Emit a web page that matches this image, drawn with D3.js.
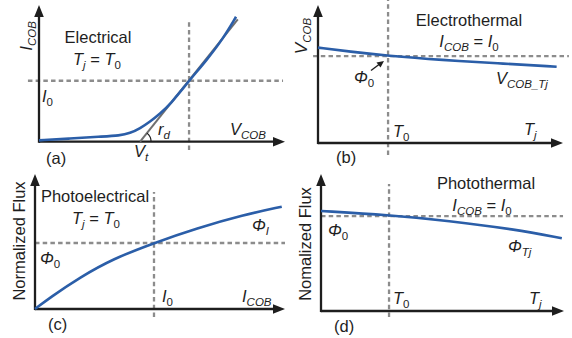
<!DOCTYPE html>
<html><head><meta charset="utf-8">
<script src="https://cdn.jsdelivr.net/npm/d3@7"></script>
<style>
body{margin:0;background:#fff}
svg{display:block}
text{font-family:"Liberation Sans",Arial,Helvetica,sans-serif;fill:#1e1e1e}
</style>
</head><body>
<svg id="c" width="572" height="338"></svg>
<script>
// ---------- DATA (normalized axis units 0..10) ----------
// (a) Electrical: I_COB vs V_COB
const aV = [0, 1.26, 2.48, 3.29, 3.70, 4.11, 4.51, 4.92, 5.33, 6.10, 6.82, 7.49, 8.01];
const aI = [0.10, 0.23, 0.37, 0.45, 0.62, 0.98, 1.46, 2.05, 2.72, 4.46, 5.98, 7.56, 9.14];
const aTanV = [4.11, 8.08];
const aTanI = [0, 8.95];
const aRefX = 6.10, aRefY = 4.46;
const aHLine = [-0.45, 9.92];
const aVLine = [-0.6, 8.9];

// (b) Electrothermal: V_COB vs Tj
const bT = [0, 1.31, 2.80, 5.10, 7.29, 9.74];
const bV = [6.91, 6.62, 6.33, 6.01, 5.78, 5.53];
const bRefX = 2.86, bRefY = 6.30;
const bHLine = [-0.2, 10.24];
const bVLine = [-0.87, 10.36];

// (c) Photoelectrical: Flux vs I_COB
const cI = [0, 0.6, 1.8, 3.12, 4.76, 6.47, 8.33, 9.87];
const cF = [0, 0.85, 2.35, 3.72, 4.89, 5.98, 6.96, 7.58];
const cRefX = 4.76, cRefY = 4.89;
const cHLine = [0, 10];
const cVLine = [-0.59, 8.67];

// (d) Photothermal: Flux vs Tj
const dT = [0, 2.77, 5.24, 7.98, 9.91];
const dF = [7.30, 7.01, 6.59, 5.96, 5.31];
const dRefX = 2.80, dRefY = 6.93;
const dHLine = [0, 9.96];
const dVLine = [-0.44, 9.27];

// ---------- STYLE / LAYOUT ----------
const BLUE = "#2b5ea8", DASH = "#8c8c8c", AXIS = "#1e1e1e", TAN = "#6f6f6f";
const FS = 16.5, SUB = 11.5;

const svg = d3.select("#c");

function rich(x, y, segs, opts = {}) {
  const t = svg.append("text").attr("x", x).attr("y", y)
    .attr("text-anchor", opts.anchor || "start")
    .style("font-size", (opts.size || FS) + "px");
  if (opts.rotate) t.attr("transform", `rotate(-90,${x},${y})`);
  let off = 0;
  segs.forEach(([txt, st = ""]) => {
    const sub = st.includes("s");
    const target = sub ? 4 : 0;
    const sp = t.append("tspan").text(txt)
      .style("font-style", st.includes("i") ? "italic" : "normal")
      .style("font-size", (sub ? SUB : (opts.size || FS)) + "px");
    if (target !== off) { sp.attr("dy", target - off); off = target; }
  });
  return t;
}

function panel(cfg) {
  const x = d3.scaleLinear().domain([0, 10]).range(cfg.xr);
  const y = d3.scaleLinear().domain([0, 10]).range(cfg.yr);
  const g = svg.append("g");
  // dashed reference lines
  g.append("line").attr("x1", x(cfg.hl[0])).attr("x2", x(cfg.hl[1]))
    .attr("y1", y(cfg.ry)).attr("y2", y(cfg.ry))
    .attr("stroke", DASH).attr("stroke-width", 2.3).attr("stroke-dasharray", "4.5,3.2");
  g.append("line").attr("x1", x(cfg.rx)).attr("x2", x(cfg.rx))
    .attr("y1", y(cfg.vl[0])).attr("y2", y(cfg.vl[1]))
    .attr("stroke", DASH).attr("stroke-width", 2.3).attr("stroke-dasharray", "4.5,3.2");
  // axes
  const ox = x(0), oy = y(0), tx = x(10), ty = y(10);
  g.append("line").attr("x1", ox).attr("y1", oy).attr("x2", tx - 8).attr("y2", oy)
    .attr("stroke", AXIS).attr("stroke-width", 2.3);
  g.append("line").attr("x1", ox).attr("y1", oy + 1.1).attr("x2", ox).attr("y2", ty + 8)
    .attr("stroke", AXIS).attr("stroke-width", 2.3);
  g.append("path").attr("d", `M${tx},${oy} L${tx - 12},${oy - 4.8} L${tx - 12},${oy + 4.8} Z`).attr("fill", AXIS);
  g.append("path").attr("d", `M${ox},${ty} L${ox - 4.8},${ty + 12} L${ox + 4.8},${ty + 12} Z`).attr("fill", AXIS);
  // extra
  if (cfg.extra) cfg.extra(g, x, y);
  // curve
  const pts = cfg.xs.map((v, i) => [v, cfg.ys[i]]);
  g.append("path").datum(pts)
    .attr("d", d3.line().x(d => x(d[0])).y(d => y(d[1])).curve(d3.curveBasis))
    .attr("fill", "none").attr("stroke", BLUE).attr("stroke-width", 2.6);
}

// (a)
panel({
  xr: [39, 285], yr: [141.7, 5], xs: aV, ys: aI, rx: aRefX, ry: aRefY, hl: aHLine, vl: aVLine,
  extra: (g, x, y) => {
    g.append("line").attr("x1", x(aTanV[0])).attr("y1", y(aTanI[0]))
      .attr("x2", x(aTanV[1])).attr("y2", y(aTanI[1]))
      .attr("stroke", TAN).attr("stroke-width", 2);
    const cx = x(aTanV[0]), cy = y(aTanI[0]);
    const ang = Math.atan2(y(aTanI[0]) - y(aTanI[1]), x(aTanV[1]) - x(aTanV[0]));
    const r = 11;
    g.append("path").attr("d", `M${cx + r},${cy} A${r},${r} 0 0 0 ${cx + r * Math.cos(ang)},${cy - r * Math.sin(ang)}`)
      .attr("fill", "none").attr("stroke", AXIS).attr("stroke-width", 1.2);
  }
});
// (b)
panel({ xr: [318, 563], yr: [143, 5], xs: bT, ys: bV, rx: bRefX, ry: bRefY, hl: bHLine, vl: bVLine,
  extra: (g) => {
    g.append("line").attr("x1", 371).attr("y1", 70.5).attr("x2", 379).attr("y2", 64.5)
      .attr("stroke", AXIS).attr("stroke-width", 1.4);
    g.append("path").attr("d", "M384,61 L376.5,62.5 L380.5,67.5 Z").attr("fill", AXIS);
  }
});
// (c)
panel({ xr: [35, 285], yr: [309, 174], xs: cI, ys: cF, rx: cRefX, ry: cRefY, hl: cHLine, vl: cVLine });
// (d)
panel({ xr: [321, 564], yr: [311, 174], xs: dT, ys: dF, rx: dRefX, ry: dRefY, hl: dHLine, vl: dVLine });

// ---------- TEXT ----------
// (a)
rich(32, 36, [["I", "i"], ["COB", "is"]], { anchor: "middle", rotate: true, size: 17 });
rich(98, 43, [["Electrical"]], { anchor: "middle" });
rich(97, 65, [["T", "i"], ["j", "is"], [" = "], ["T", "i"], ["0", "s"]], { anchor: "middle" });
rich(42, 102, [["I", "i"], ["0", "s"]]);
rich(158, 135, [["r", "i"], ["d", "is"]]);
rich(230, 135, [["V", "i"], ["COB", "is"]]);
rich(134, 157, [["V", "i"], ["t", "is"]]);
rich(46, 164, [["(a)"]]);
// (b)
rich(307, 36, [["V", "i"], ["COB", "is"]], { anchor: "middle", rotate: true, size: 17 });
rich(469, 26, [["Electrothermal"]], { anchor: "middle" });
rich(469, 47, [["I", "i"], ["COB", "is"], [" = "], ["I", "i"], ["0", "s"]], { anchor: "middle" });
rich(354, 83, [["Φ", "i"], ["0", "s"]]);
rich(496, 84, [["V", "i"], ["COB_Tj", "is"]]);
rich(393, 137, [["T", "i"], ["0", "s"]]);
rich(524, 135, [["T", "i"], ["j", "is"]]);
rich(336, 163, [["(b)"]]);
// (c)
rich(25, 241, [["Normalized Flux"]], { anchor: "middle", rotate: true });
rich(95, 202, [["Photoelectrical"]], { anchor: "middle" });
rich(96, 224, [["T", "i"], ["j", "is"], [" = "], ["T", "i"], ["0", "s"]], { anchor: "middle" });
rich(40, 264, [["Φ", "i"], ["0", "s"]]);
rich(252, 231, [["Φ", "i"], ["I", "is"]]);
rich(162, 302, [["I", "i"], ["0", "s"]]);
rich(242, 302, [["I", "i"], ["COB", "is"]]);
rich(48, 330, [["(c)"]]);
// (d)
rich(311, 244, [["Nomalized Flux"]], { anchor: "middle", rotate: true });
rich(486, 189, [["Photothermal"]], { anchor: "middle" });
rich(482, 211, [["I", "i"], ["COB", "is"], [" = "], ["I", "i"], ["0", "s"]], { anchor: "middle" });
rich(328, 236, [["Φ", "i"], ["0", "s"]]);
rich(508, 252, [["Φ", "i"], ["Tj", "is"]]);
rich(393, 304, [["T", "i"], ["0", "s"]]);
rich(529, 304, [["T", "i"], ["j", "is"]]);
rich(334, 332, [["(d)"]]);
</script>
</body></html>
